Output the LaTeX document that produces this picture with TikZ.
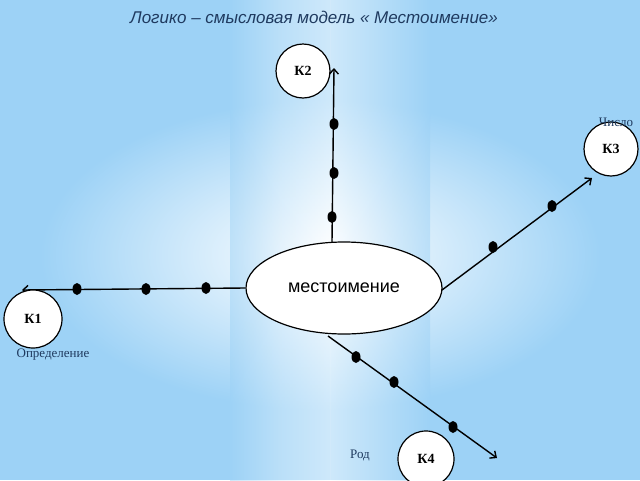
\documentclass[tikz,border=0pt]{standalone}
\usepackage{fontspec}
\setmainfont{Liberation Serif}
\setsansfont{Liberation Sans}
\usetikzlibrary{arrows.meta,shapes.geometric}
\definecolor{bg}{HTML}{9DD2F6}
\definecolor{lab}{HTML}{1F3A5F}
\begin{document}
\begin{tikzpicture}[x=1pt,y=-1pt,
  kc/.style={circle,draw,line width=1.2pt,fill=white,minimum size=54pt,inner sep=0pt,font=\bfseries\fontsize{14}{14}\selectfont},
  ln/.style={line width=1.4pt,-{Straight Barb[length=5pt,width=9pt]}},
  dt/.style={fill=black,ellipse,minimum width=9pt,minimum height=12pt,inner sep=0pt},
  lb/.style={text=lab,font=\fontsize{13}{13}\selectfont}]
\useasboundingbox (0,0) rectangle (640,480);
\fill[bg] (0,0) rectangle (640,480);
\shade[inner color=white,outer color=bg] (40,100) rectangle (600,410);
\shade[left color=bg,right color=white,opacity=0.5,middle color=white!60!bg] (230,0) rectangle (330,480);
\shade[left color=white,right color=bg,opacity=0.5] (330,0) rectangle (430,480);
\node[font=\sffamily\itshape\fontsize{17}{17}\selectfont,text=lab] (t) at (314,17) {Логико – смысловая модель « Местоимение»};
\node[draw,line width=1.2pt,ellipse,fill=white,minimum width=196pt,minimum height=92pt,font=\sffamily\fontsize{18}{18}\selectfont] (m) at (344,288) {местоимение};
\coordinate (e2) at (334,68);
\coordinate (e1) at (22,290);
\coordinate (e3) at (592,178);
\coordinate (e4) at (497,458);
\coordinate (s2) at (332,242);
\coordinate (s1) at (245,288);
\coordinate (s3) at (442,290);
\coordinate (s4) at (328,336);
\draw[ln] (s2) -- (e2);
\draw[ln] (s1) -- (e1);
\draw[ln] (s3) -- (e3);
\draw[ln] (s4) -- (e4);
\foreach \n/\p in {a/{(334,124)},b/{(334,173)},c/{(332,217)},d/{(77,289)},e/{(146,289)},f/{(206,288)},g/{(493,247)},h/{(552,206)},i/{(356,357)},j/{(394,382)},k/{(453,427)}}
  \node[dt] (\n) at \p {};
\node[kc] (k2) at (303,71) {К2};
\node[kc] (k3) at (611,149) {К3};
\node[kc,minimum size=58pt] (k1) at (33,319) {К1};
\node[kc,minimum size=56pt] (k4) at (426,459) {К4};
\node[lb] (l3) at (616,122) {Число};
\node[lb] (l1) at (53,355) {Определение};
\node[lb] (l4) at (360,455) {Род};
\end{tikzpicture}
\end{document}
